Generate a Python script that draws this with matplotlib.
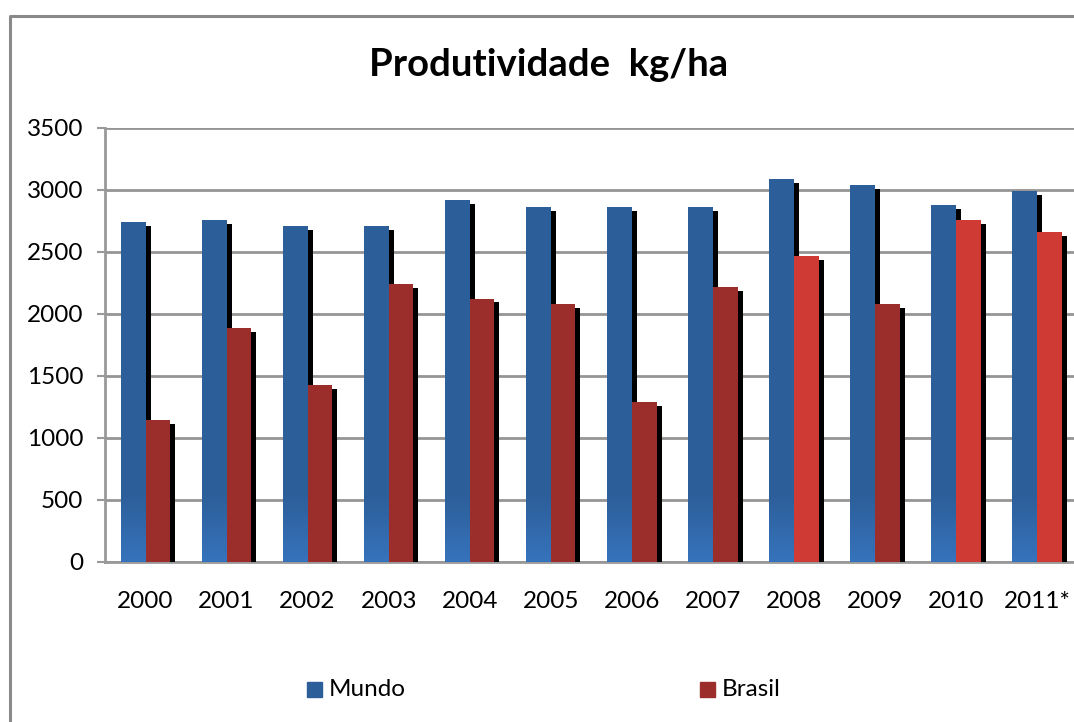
import numpy as np
import matplotlib
matplotlib.use("Agg")
import matplotlib.pyplot as plt
from matplotlib.patches import Rectangle
from matplotlib.lines import Line2D
from matplotlib.colors import to_rgb

plt.rcParams['font.family'] = ['Lato', 'DejaVu Sans']

anos = ['2000', '2001', '2002', '2003', '2004', '2005', '2006', '2007',
        '2008', '2009', '2010', '2011*']
mundo = [2740, 2755, 2710, 2710, 2920, 2860, 2860, 2860, 3085, 3040, 2880, 2990]
brasil = [1145, 1885, 1430, 2240, 2125, 2080, 1290, 2220, 2465, 2080, 2760, 2660]
cor_brasil = ['#9b2d2b'] * 8 + ['#cf3a35', '#9b2d2b', '#cf3a35', '#cf3a35']

azul = '#2c5e99'
azul_claro = '#3673bc'

W, H = 1074, 722
fig = plt.figure(figsize=(W / 100, H / 100), dpi=100)
fig.patch.set_facecolor('white')

# moldura do grafico (so esquerda e topo aparecem)
fig.add_artist(Line2D([10 / W, 10 / W, 1.0], [0.0, 1 - 16 / H, 1 - 16 / H],
                      transform=fig.transFigure, color='#8a8a8a', linewidth=2.2))

ax = fig.add_axes([105 / W, 1 - 562 / H, (1077.6 - 105) / W, 434 / H])

x = np.arange(len(anos))
bw = 0.305
dx = 5 / 81.05
dy = 32

# sombras
ax.bar(x - bw + dx, np.array(mundo) - dy, width=bw, align='edge', color='black', zorder=2)
barras_m = ax.bar(x - bw, mundo, width=bw, align='edge', color=azul, zorder=3)
ax.bar(x + dx, np.array(brasil) - dy, width=bw, align='edge', color='black', zorder=4)
ax.bar(x, brasil, width=bw, align='edge', color=cor_brasil, zorder=5)

# gradiente na base das barras azuis
c0 = np.array(to_rgb(azul_claro))
c1 = np.array(to_rgb(azul))
t = np.linspace(0, 1, 100)[:, None]
grad = (c0 * (1 - t) + c1 * t)[:, None, :]
for b in barras_m:
    im = ax.imshow(grad, extent=[b.get_x(), b.get_x() + b.get_width(), 0, 550],
                   origin='lower', aspect='auto', zorder=3.5)
    im.set_clip_path(b)
ax.set_xlim(-0.5, 11.5)
ax.set_ylim(0, 3500)

ax.set_yticks(np.arange(0, 3501, 500))
ax.yaxis.grid(True, color='#959595', linewidth=2.0)
ax.set_axisbelow(True)
ax.set_xticks(x)
ax.set_xticklabels(anos)
ax.tick_params(axis='x', length=0, pad=21, labelsize=17.5)
ax.tick_params(axis='y', length=5.8, width=1.5, color='#999999', pad=10, labelsize=17.5)
for s in ['top', 'right']:
    ax.spines[s].set_visible(False)
for s in ['left', 'bottom']:
    ax.spines[s].set_color('#999999')
    ax.spines[s].set_linewidth(2.0)

fig.text(548.5 / W, 1 - 65 / H, 'Produtividade  kg/ha', ha='center', va='center',
         fontsize=27.5, fontweight='bold')

# legenda
for px, txt, cor in [(307, 'Mundo', azul), (700, 'Brasil', '#9b2d2b')]:
    fig.add_artist(Rectangle((px / W, 1 - 697 / H), 15 / W, 15 / H,
                             transform=fig.transFigure, color=cor))
    fig.text((px + 22) / W, 1 - 690 / H, txt, ha='left', va='center', fontsize=17.5)

fig.savefig('out.png', dpi=100)
